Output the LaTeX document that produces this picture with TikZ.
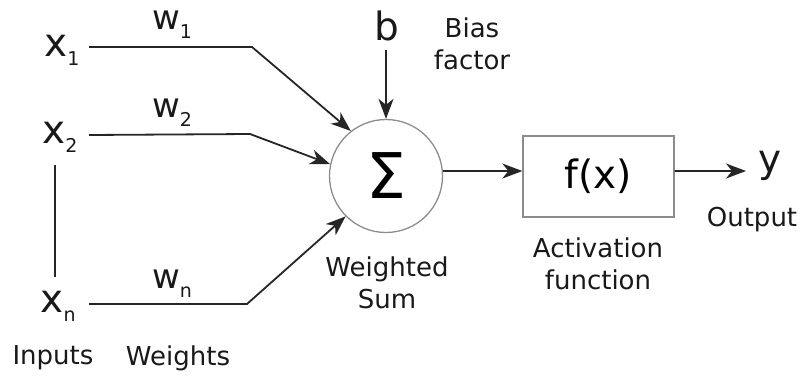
\documentclass[tikz,border=0pt]{standalone}
\usepackage{fontspec}
\setmainfont{DejaVu Sans}
\usetikzlibrary{arrows.meta}
\newcommand{\bigsym}[1]{{\fontsize{39}{40}\selectfont #1}}
\newcommand{\wsym}[1]{{\fontsize{34}{36}\selectfont #1}}
\newcommand{\subsym}[1]{\raisebox{-9pt}{\fontsize{19}{20}\selectfont #1}}
\begin{document}
\begin{tikzpicture}[x=1pt,y=-1pt,
  lbl/.style={font=\fontsize{26}{32}\selectfont, align=center, text=black!90, inner sep=0pt},
  sym/.style={inner sep=0pt, text=black!90},
  wire/.style={draw=black!85, line width=1.8pt},
  arr/.style={wire, -{Stealth[length=20pt,width=15pt,inset=6pt]}},
  grayline/.style={draw=black!45, line width=1.3pt}]
\useasboundingbox (0,0) rectangle (805,380);
% inputs
\node[sym] (x1) at (62,50) {\bigsym{x}\subsym{1}};
\node[sym] (x2) at (60,137) {\bigsym{x}\subsym{2}};
\node[sym] (xn) at (58,306) {\bigsym{x}\subsym{n}};
% weights
\node[sym] (w1) at (172,25) {\wsym{w}\subsym{1}};
\node[sym] (w2) at (172,113) {\wsym{w}\subsym{2}};
\node[sym] (wn) at (172,284) {\wsym{w}\subsym{n}};
% sum
\node[circle, grayline, minimum size=113pt, inner sep=0pt] (sum) at (386,176) {\fontsize{63}{64}\selectfont Σ};
% bias
\node[sym] (b) at (387,26) {\bigsym{b}};
\node[lbl] (bias) at (472,44) {Bias\\factor};
% activation
\node[grayline, minimum width=151pt, minimum height=81pt, inner sep=0pt] (f) at (598.5,176.5) {\bigsym{f(x)}};
\node[sym] (y) at (770,166) {\bigsym{y}};
% labels
\node[lbl] (ws) at (387,283) {Weighted\\Sum};
\node[lbl] (af) at (598,264) {Activation\\function};
\node[lbl] (out) at (752,220) {Output};
\node[lbl] (inp) at (53,358) {Inputs};
\node[lbl] (wts) at (178,358) {Weights};
% connectors
\coordinate (s1) at (89,47); \coordinate (k1) at (252,47);
\coordinate (s2) at (89,135); \coordinate (k2) at (250,134);
\coordinate (sn) at (89,304); \coordinate (kn) at (247,304);
\draw[arr] (s1) -- (k1) -- (sum.128);
\draw[arr] (s2) -- (k2) -- (sum.168);
\draw[arr] (sn) -- (kn) -- (sum.225);
\draw[wire] (55,165) -- (55,277);
\draw[arr] ([yshift=-9pt]sum.north |- b.south) -- (sum.north);
\coordinate (yin) at (746,171);
\draw[arr] (sum.5) -- (sum.5 -| f.west);
\draw[arr] (f.east |- sum.5) -- (yin);
\end{tikzpicture}
\end{document}
